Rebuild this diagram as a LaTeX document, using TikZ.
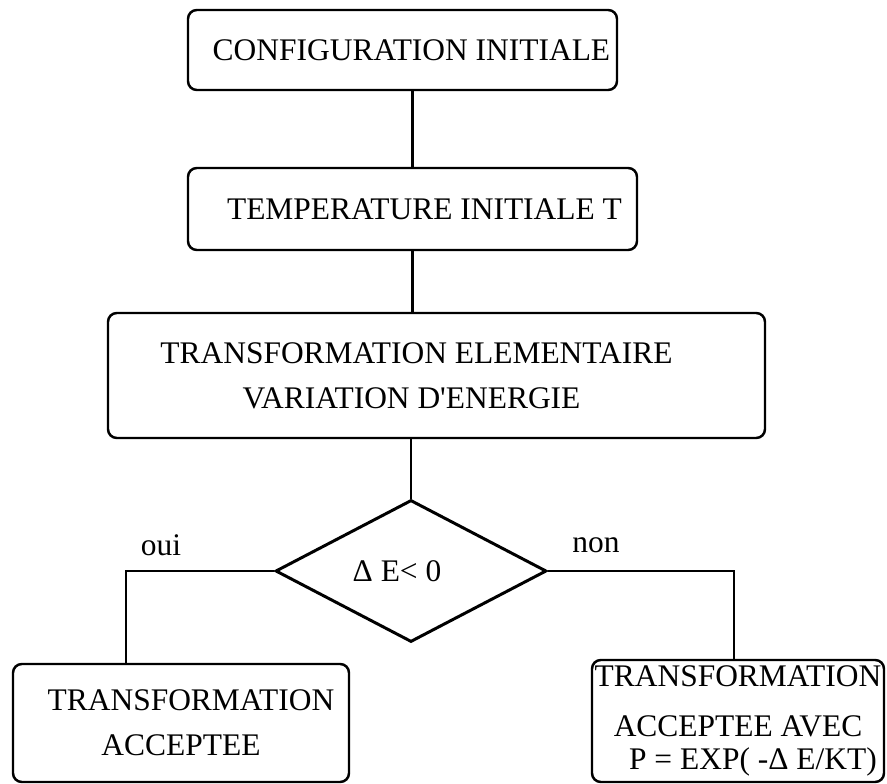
\documentclass[tikz,border=0pt]{standalone}
\usepackage{fontspec}
\setmainfont{Liberation Serif}
\usetikzlibrary{shapes.geometric,positioning}
\tikzset{
  box/.style={
    draw, line width=1.4pt, rounded corners=5pt,
    align=center, inner xsep=0pt,
    font=\fontsize{17.9}{25.5}\selectfont
  },
  decision/.style={
    draw, diamond, line width=1.7pt, inner sep=0pt,
    font=\fontsize{17.9}{25.5}\selectfont
  },
  lab/.style={font=\fontsize{17.9}{25.5}\selectfont},
  link/.style={line width=1.5pt}
}

\begin{document}
\begin{tikzpicture}
  \useasboundingbox (0,0) rectangle (17.74,-15.68);

  \node[box, minimum width=8.58cm, minimum height=1.6cm] (init) at (8.05,-1.0)
    {\hspace*{0.36cm}CONFIGURATION INITIALE};
  \node[box, minimum width=8.98cm, minimum height=1.64cm] (temp) at (8.25,-4.18)
    {\hspace*{0.48cm}TEMPERATURE INITIALE T};
  \node[box, minimum width=13.14cm, minimum height=2.5cm] (trans) at (8.73,-7.51)
    {TRANSFORMATION ELEMENTAIRE\hspace*{0.8cm}\\
     VARIATION D\textquotesingle ENERGIE\hspace*{1.0cm}};

  \node[decision, minimum width=5.42cm, minimum height=2.84cm] (test) at (8.22,-11.42)
    {Δ E< 0\hspace*{0.56cm}};

  \node[box, minimum width=6.72cm, minimum height=2.36cm] (yes) at (3.62,-14.46)
    {\hspace*{0.4cm}TRANSFORMATION\\ACCEPTEE};
  \node[box, minimum width=5.84cm, minimum height=2.44cm] (no) at (14.76,-14.42)
    {TRANSFORMATION\\[0.1cm]
     ACCEPTEE AVEC\hspace*{0.4cm}\\[-0.24cm]
     \hspace*{0.6cm}P = EXP( -Δ E/KT)};

  \node[lab] (oui) at (3.22,-10.9) {oui};
  \node[lab] (non) at (11.92,-10.9) {non};

  % main chain
  \draw[link] (temp.north |- init.south) -- (temp.north);
  \draw[link] (temp.south) -- (temp.south |- trans.north);
  \draw[link] (trans.south -| test.north) -- (test.north);

  % branches of the test
  \draw[link] (test.west) -| ([xshift=-1.1cm]yes.north);
  \draw[link] (test.east) -| ([xshift=-0.08cm]no.north);
\end{tikzpicture}
\end{document}
